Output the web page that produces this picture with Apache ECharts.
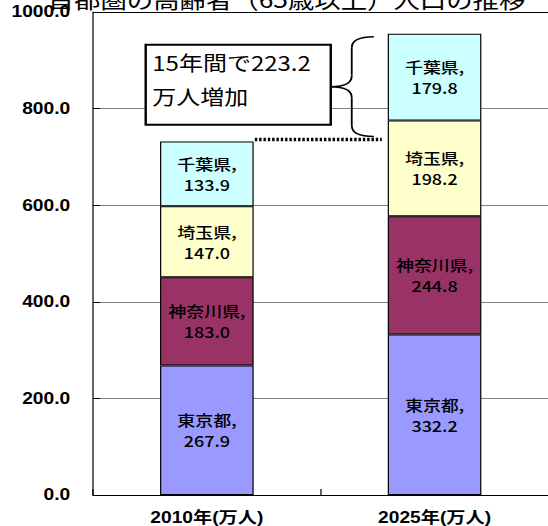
<!DOCTYPE html>
<html>
<head>
<meta charset="utf-8">
<script src="https://cdn.jsdelivr.net/npm/echarts@6/dist/echarts.min.js"></script>
<style>
  html, body { margin: 0; padding: 0; background: #fff; overflow: hidden; }
  /* the chart is laid out narrow and widened horizontally, giving the wide lettering */
  #chart { width: 456.667px; height: 526px; transform: scaleX(1.2); transform-origin: 0 0; }
</style>
</head>
<body>
<div id="chart"></div>
<script>
// ---- data ----
const chartTitle = '首都圏の高齢者（65歳以上）人口の推移';
const categories = ['2010年(万人)', '2025年(万人)'];
const prefectures = ['東京都', '神奈川県', '埼玉県', '千葉県'];
const tokyo = [267.9, 332.2];
const kanagawa = [183.0, 244.8];
const saitama = [147.0, 198.2];
const chiba = [133.9, 179.8];
const yMin = 0, yMax = 1000, yStep = 200;
const periodYears = 15;

// ---- styling ----
const seriesValues = [tokyo, kanagawa, saitama, chiba];
const colors = ['#9999FF', '#993366', '#FFFFCC', '#CCFFFF'];
const BAR_W = 78;
const CJK = '"Noto Sans CJK JP", sans-serif';
const LATIN = '"Liberation Sans", Arial, "Noto Sans CJK JP", sans-serif';

const chart = echarts.init(document.getElementById('chart'), null, { renderer: 'svg' });

chart.setOption({
  animation: false,
  backgroundColor: '#fff',
  grid: { left: 77.5, top: 12, width: 385, height: 483.5, containLabel: false },
  xAxis: {
    type: 'category',
    data: categories,
    axisLine: { show: true, lineStyle: { color: '#000', width: 1 } },
    axisTick: { show: true, inside: true, length: 6, lineStyle: { color: '#000' } },
    axisLabel: { fontFamily: LATIN, fontWeight: 'bold', fontSize: 16, color: '#000', margin: 15 },
    splitLine: { show: false }
  },
  yAxis: {
    type: 'value',
    min: yMin, max: yMax, interval: yStep,
    axisLine: { show: true, lineStyle: { color: '#000', width: 1 } },
    axisTick: { show: true, inside: true, length: 6, lineStyle: { color: '#000' } },
    axisLabel: {
      formatter: v => v.toFixed(1),
      fontFamily: LATIN, fontWeight: 'bold', fontSize: 16, color: '#000', margin: 19
    },
    splitLine: {
      show: true,
      lineStyle: { color: ['#000', '#808080', '#808080', '#808080', '#808080', '#000'], width: 1 }
    }
  },
  series: prefectures.map((name, i) => ({
    name,
    type: 'bar',
    stack: 'total',
    barWidth: BAR_W,
    data: seriesValues[i],
    silent: true,
    itemStyle: { color: colors[i], borderColor: '#000', borderWidth: 1 },
    label: {
      show: true,
      position: 'inside',
      formatter: p => p.seriesName + ',\n' + Number(p.value).toFixed(1),
      fontFamily: CJK,
      fontWeight: 500,
      fontSize: 15,
      lineHeight: 21,
      color: '#000'
    }
  }))
});

// ---- annotations: title, dotted link, brace and note box ----
const totals = categories.map((_, j) => seriesValues.reduce((s, arr) => s + arr[j], 0));
const top0 = chart.convertToPixel({ gridIndex: 0 }, [0, totals[0]]);
const top1 = chart.convertToPixel({ gridIndex: 0 }, [1, totals[1]]);
const half = BAR_W / 2;
const increase = (totals[1] - totals[0]).toFixed(1);

const braceTop = top1[1] + 3;
const braceBottom = top0[1] - 5;
const braceMid = (braceTop + braceBottom) / 2;
const xe = top1[0] - half - 11.6;   // hook ends
const xv = xe - 18.4;               // vertical stem
const xt = xv - 17.5;               // pointing tip
const r = 11;
const braceStyle = { fill: 'none', stroke: '#000', lineWidth: 1.5 };
const curve = (x1, y1, cx, cy, x2, y2) => ({
  type: 'bezierCurve', z: 10, silent: true,
  shape: { x1, y1, x2, y2, cpx1: cx, cpy1: cy },
  style: braceStyle
});
const segment = (x1, y1, x2, y2) => ({
  type: 'line', z: 10, silent: true,
  shape: { x1, y1, x2, y2 },
  style: braceStyle
});
const brace = [
  curve(xe, braceTop, xv, braceTop, xv, braceTop + r),
  segment(xv, braceTop + r, xv, braceMid - r),
  curve(xv, braceMid - r, xv, braceMid, xt, braceMid),
  curve(xt, braceMid, xv, braceMid, xv, braceMid + r),
  segment(xv, braceMid + r, xv, braceBottom - r),
  curve(xv, braceBottom - r, xv, braceBottom, xe, braceBottom)
];

const boxW = 154.2, boxH = 80;
const boxX = xt - boxW;
const boxY = braceMid - 42;

chart.setOption({
  graphic: [
    {
      type: 'text', x: 238.75, y: -2, z: 0, silent: true,
      style: {
        text: chartTitle, fill: '#000',
        font: '22px "Noto Sans CJK JP", sans-serif',
        textAlign: 'center', textVerticalAlign: 'middle'
      }
    },
    {
      type: 'line', z: 10, silent: true,
      shape: { x1: top0[0] + half + 1, y1: top0[1] - 2, x2: top1[0] - half - 5, y2: top0[1] - 2 },
      style: { stroke: '#000', lineWidth: 3.5, lineDash: [2, 1.6] }
    },
    ...brace,
    {
      type: 'rect', z: 10, silent: true,
      shape: { x: boxX, y: boxY, width: boxW, height: boxH },
      style: { fill: '#fff', stroke: '#000', lineWidth: 2 }
    },
    {
      type: 'text', z: 11, x: boxX + 5.5, y: boxY + 34.5, silent: true,
      style: {
        text: `${periodYears}年間で${increase}\n万人増加`,
        fill: '#000',
        font: '20px "Noto Sans CJK JP", sans-serif',
        lineHeight: 34,
        textAlign: 'left', textVerticalAlign: 'middle'
      }
    }
  ]
});
</script>
</body>
</html>
